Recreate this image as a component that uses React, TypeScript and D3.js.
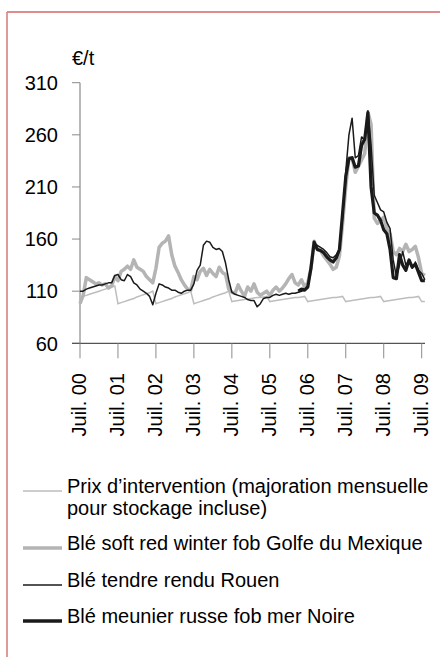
import React from 'react';
import * as d3 from 'd3';

// monthly values, Jul 2000 = index 0
const intervention = [
  104, 105, 106, 107, 108, 109, 110, 111, 112, 113, 114, 115,
  98, 99, 100, 101, 102, 103, 104.5, 105.5, 106.5, 107.5, 108.5, 110,
  98, 99, 100, 101, 102, 103, 104.5, 105.5, 106.5, 107.5, 108.5, 110,
  98, 99, 100, 101, 102, 103, 104.5, 105.5, 106.5, 107.5, 108.5, 110,
  100, 100.5, 101, 101.5, 102, 102.5, 103, 103.5, 104, 104, 104.5, 105,
  100, 100.5, 101, 101.5, 102, 102.5, 103, 103.5, 104, 104, 104.5, 105,
  100, 100.5, 101, 101.5, 102, 102.5, 103, 103.5, 104, 104, 104.5, 105,
  100, 100.5, 101, 101.5, 102, 102.5, 103, 103.5, 104, 104, 104.5, 105,
  100, 100.5, 101, 101.5, 102, 102.5, 103, 103.5, 104, 104, 104.5, 105,
  100, 100,
];

const srwGulf = [
  98, 106, 123, 121, 119, 117, 118, 116, 117, 113, 115, 124,
  120, 129, 131, 134, 131, 140, 133, 131, 129, 124, 121, 118,
  132, 152, 156, 158, 163, 145, 134, 128, 121, 116, 112, 111,
  124, 121, 129, 132, 125, 131, 127, 124, 133, 128, 126, 112,
  109, 108, 116, 110, 105, 114, 110, 117, 109, 106, 108, 110,
  106, 111, 114, 110, 113, 117, 122, 126, 118, 116, 121, 114,
  118, 132, 158, 150, 149, 144, 140, 136, 131, 133, 144, 175,
  210, 238, 238, 224, 230, 236, 242, 282, 270, 180, 175, 178,
  181, 170, 165, 148, 145, 151, 148, 155, 148, 150, 153, 142,
  127, 125,
];

const rouen = [
  110, 110, 112, 113, 114, 115, 116, 116, 117, 118, 118, 125,
  126, 121, 120, 126, 124, 118, 116, 112, 110, 108, 105, 97,
  108, 117, 116, 114, 113, 111, 111, 109, 108, 110, 111, 111,
  117, 130, 135, 154, 158, 157, 152, 150, 151, 148, 137, 121,
  109, 107, 106, 105, 104, 102, 101, 101, 95, 98, 103, 104,
  104, 106, 107, 106, 107, 108, 107, 108, 108, 109, 110, 111,
  115, 135, 155, 154, 152, 150, 147, 143, 142, 145, 150, 180,
  225, 260, 276, 238, 240, 258, 255, 283, 250, 202, 195, 188,
  186, 176, 170, 140, 124, 135, 148, 135, 140, 132, 138, 130,
  127, 121,
];

// Russian wheat starts May 2006 (index 69)
const russianStart = 69;
const russian = [
  110, 112, 111,
  114, 132, 157, 150, 149, 147, 143, 140, 138, 142, 150, 185,
  220, 237, 238, 229, 230, 250, 256, 281, 210, 185, 183, 178,
  169, 165, 150, 123, 122, 145, 135, 130, 140, 133, 136, 128,
  120, 120,
];

const yTicks = [60, 110, 160, 210, 260, 310];
const yearLabels = ['Juil. 00', 'Juil. 01', 'Juil. 02', 'Juil. 03', 'Juil. 04', 'Juil. 05', 'Juil. 06', 'Juil. 07', 'Juil. 08', 'Juil. 09'];

const legendItems = [
  { lines: ["Prix d\u2019intervention (majoration mensuelle", 'pour stockage incluse)'], color: '#bdbdbd', width: 1.5, y: 491 },
  { lines: ['Blé soft red winter fob Golfe du Mexique'], color: '#b4b4b4', width: 3.5, y: 548 },
  { lines: ['Blé tendre rendu Rouen'], color: '#1a1a1a', width: 1.5, y: 585 },
  { lines: ['Blé meunier russe fob mer Noire'], color: '#1a1a1a', width: 3.5, y: 621 },
];

const FONT = "'Liberation Sans', Arial, sans-serif";
const FS = 20;

export default function App() {
  const x = d3.scaleLinear().domain([0, 108]).range([80, 421.7]);
  const y = d3.scaleLinear().domain([60, 310]).range([343.3, 82.7]);

  const line = d3
    .line<number>()
    .x((_, i) => x(i))
    .y((d) => y(d));
  const lineRu = d3
    .line<number>()
    .x((_, i) => x(i + russianStart))
    .y((d) => y(d));

  return (
    <div style={{ position: 'absolute', left: 0, top: 0 }}>
      <svg width={440} height={657} style={{ display: 'block', background: '#fff' }} fontFamily={FONT}>
        {/* frame */}
        <line x1={7} x2={440} y1={12} y2={12} stroke="#c41a1a" strokeWidth={1.2} />
        <line x1={7} x2={7} y1={12} y2={657} stroke="#d98080" strokeWidth={1.6} />

        <text x={72} y={65} fontSize={FS} fill="#000">€/t</text>

        {/* y axis */}
        <line x1={80} x2={80} y1={y(310)} y2={y(60)} stroke="#8a8a8a" strokeWidth={1.2} />
        {yTicks.map((t) => (
          <g key={t}>
            <line x1={72} x2={80} y1={y(t)} y2={y(t)} stroke="#8a8a8a" strokeWidth={1} />
            <text x={58} y={y(t)} dy="0.36em" textAnchor="end" fontSize={FS} fill="#000">
              {t}
            </text>
          </g>
        ))}

        {/* x axis */}
        <line x1={72} x2={425} y1={y(60)} y2={y(60)} stroke="#555" strokeWidth={1.2} />
        {yearLabels.map((lab, i) => {
          const tx = x(i * 12);
          return (
            <g key={lab}>
              <line x1={tx} x2={tx} y1={y(60)} y2={y(60) + 15} stroke="#8a8a8a" strokeWidth={1} />
              <text
                transform={`translate(${tx + 6},373) rotate(-90)`}
                textAnchor="end"
                fontSize={FS}
                fill="#000"
              >
                {lab}
              </text>
            </g>
          );
        })}

        {/* series */}
        <path d={line(intervention) || ''} fill="none" stroke="#bdbdbd" strokeWidth={1.5} />
        <path d={line(srwGulf) || ''} fill="none" stroke="#b4b4b4" strokeWidth={3.5} strokeLinejoin="round" />
        <path d={line(rouen) || ''} fill="none" stroke="#1a1a1a" strokeWidth={1.5} strokeLinejoin="round" />
        <path d={lineRu(russian) || ''} fill="none" stroke="#1a1a1a" strokeWidth={3.2} strokeLinejoin="round" />

        {/* legend */}
        {legendItems.map((it) => (
          <g key={it.lines[0]}>
            <line x1={23} x2={62} y1={it.y} y2={it.y} stroke={it.color} strokeWidth={it.width} />
            {it.lines.map((l, j) => (
              <text key={l} x={67} y={it.y + 2 + j * 22} fontSize={FS} fill="#000">
                {l}
              </text>
            ))}
          </g>
        ))}
      </svg>
    </div>
  );
}
